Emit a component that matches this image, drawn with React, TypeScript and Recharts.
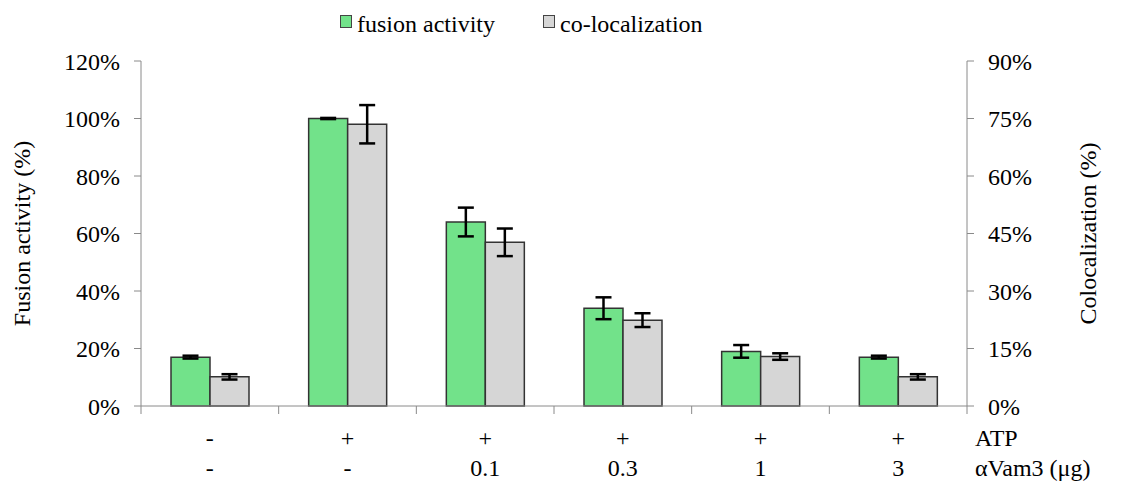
import { BarChart, Bar, XAxis, YAxis, ErrorBar } from 'recharts';

const categories = ['c1', 'c2', 'c3', 'c4', 'c5', 'c6'];
const atpLabels = ['-', '+', '+', '+', '+', '+'];
const vam3Labels = ['-', '-', '0.1', '0.3', '1', '3'];
// fusion activity, left axis (%)
const fusion = [17, 100, 64, 34, 19, 17];
const fusionErr = [0.5, 0.2, 5, 3.8, 2.2, 0.5];
// co-localization, right axis (%)
const coloc = [7.6, 73.5, 42.7, 22.4, 12.9, 7.6];
const colocErr = [0.7, 5, 3.6, 1.8, 0.85, 0.7];
const leftTicks = [0, 20, 40, 60, 80, 100, 120];
const rightTicks = [0, 15, 30, 45, 60, 75, 90];

const data = categories.map((key, i) => ({
  key,
  fusion: fusion[i],
  fusionErr: fusionErr[i],
  coloc: coloc[i],
  colocErr: colocErr[i],
}));

const W = 1126;
const H = 491;
const LEFT = 141;
const RIGHT = 159;
const TOP = 61;
const BOTTOM = 85;
const band = (W - LEFT - RIGHT) / categories.length;
const font = "'Liberation Serif', 'DejaVu Serif', serif";
const axisColor = '#8a8a8a';

function CategoryTick(props: any) {
  const { x, y, payload } = props;
  const i = payload.index;
  const last = i === categories.length - 1;
  return (
    <g>
      <line x1={x - band / 2} y1={y} x2={x - band / 2} y2={y + 8} stroke={axisColor} />
      {last && <line x1={x + band / 2} y1={y} x2={x + band / 2} y2={y + 8} stroke={axisColor} />}
      <text x={x} y={y + 40} textAnchor="middle" fontSize={24} style={{ fontFamily: font }} fill="#000">
        {atpLabels[i]}
      </text>
      <text x={x} y={y + 70} textAnchor="middle" fontSize={24} style={{ fontFamily: font }} fill="#000">
        {vam3Labels[i]}
      </text>
      {last && (
        <text x={x + band / 2 + 8} y={y + 40} fontSize={24} style={{ fontFamily: font }} fill="#000">
          ATP
        </text>
      )}
      {last && (
        <text x={x + band / 2 + 8} y={y + 70} fontSize={24} style={{ fontFamily: font }} fill="#000">
          αVam3 (μg)
        </text>
      )}
    </g>
  );
}

function Legend() {
  const item = (color: string, text: string, left: number) => (
    <div style={{ position: 'absolute', left, top: 10, display: 'flex', alignItems: 'flex-start', fontFamily: font, fontSize: 24, lineHeight: '28px', color: '#000' }}>
      <span style={{ width: 10, height: 11, marginTop: 5, marginRight: 5, background: color, border: '1px solid #444' }} />
      <span>{text}</span>
    </div>
  );
  return (
    <>
      {item('#72e28a', 'fusion activity', 340)}
      {item('#d6d6d6', 'co-localization', 543)}
    </>
  );
}

const axisTitle = (text: string, x: number) => ({ viewBox }: any) => {
  const cy = viewBox.y + viewBox.height / 2;
  return (
    <text
      x={x}
      y={cy}
      transform={`rotate(-90, ${x}, ${cy})`}
      textAnchor="middle"
      dominantBaseline="central"
      fontSize={24}
      style={{ fontFamily: font }}
      fill="#000"
    >
      {text}
    </text>
  );
};

export default function App() {
  return (
    <div style={{ position: 'absolute', left: 0, top: 0, width: W, height: H, background: '#fff', fontFamily: font }}>
      <BarChart
        width={W}
        height={H}
        data={data}
        margin={{ top: TOP, right: 0, bottom: 0, left: 0 }}
        barGap={0}
        barSize={39}
      >
        <XAxis
          dataKey="key"
          height={BOTTOM}
          interval={0}
          tickLine={false}
          tickSize={0}
          tickMargin={0}
          stroke={axisColor}
          tick={<CategoryTick />}
        />
        <YAxis
          yAxisId="left"
          width={LEFT}
          domain={[0, 120]}
          ticks={leftTicks}
          tickFormatter={(v) => `${v}%`}
          tickSize={7}
          tickMargin={14}
          stroke={axisColor}
          tick={{ fontSize: 24, fontFamily: font, fill: '#000' }}
          label={axisTitle('Fusion activity (%)', 22)}
        />
        <YAxis
          yAxisId="right"
          orientation="right"
          width={RIGHT}
          domain={[0, 90]}
          ticks={rightTicks}
          tickFormatter={(v) => `${v}%`}
          tickSize={7}
          tickMargin={14}
          stroke={axisColor}
          tick={{ fontSize: 24, fontFamily: font, fill: '#000' }}
          label={axisTitle('Colocalization (%)', 1088)}
        />
        <Bar yAxisId="left" dataKey="fusion" fill="#72e28a" stroke="#333" strokeWidth={1.5} isAnimationActive={false}>
          <ErrorBar dataKey="fusionErr" width={8} stroke="#000" strokeWidth={2.5} isAnimationActive={false} />
        </Bar>
        <Bar yAxisId="right" dataKey="coloc" fill="#d6d6d6" stroke="#333" strokeWidth={1.5} isAnimationActive={false}>
          <ErrorBar dataKey="colocErr" width={8} stroke="#000" strokeWidth={2.5} isAnimationActive={false} />
        </Bar>
      </BarChart>
      <Legend />
    </div>
  );
}
